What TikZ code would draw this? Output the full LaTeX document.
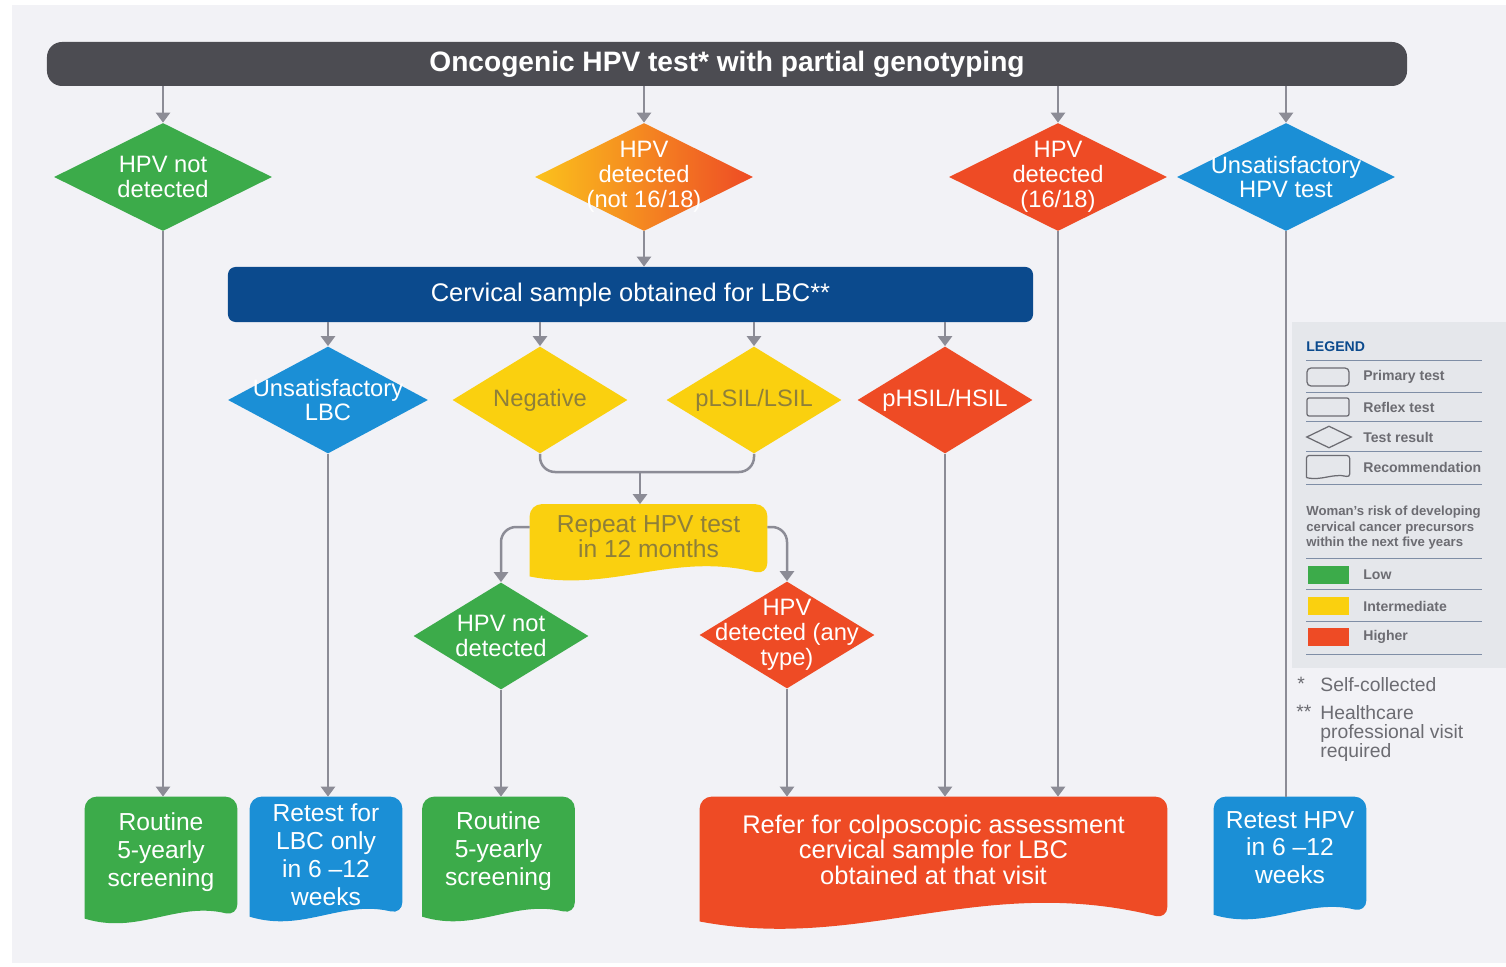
\documentclass[tikz,border=0pt]{standalone}
\usepackage{fontspec}
\setmainfont{Liberation Sans}
\usetikzlibrary{positioning,arrows.meta,calc,shapes.geometric,backgrounds}

\definecolor{bardark}{HTML}{4C4C52}
\definecolor{lbcnavy}{HTML}{0B4A8D}
\definecolor{riskgreen}{HTML}{3CAB4A}
\definecolor{riskyellow}{HTML}{FAD00F}
\definecolor{riskred}{HTML}{EE4B25}
\definecolor{midorange}{HTML}{FBC21C}
\definecolor{unsatblue}{HTML}{1B8FD6}
\definecolor{textolive}{HTML}{8E7F3A}
\definecolor{linkgray}{HTML}{8C8C96}
\definecolor{pagebg}{HTML}{F2F2F6}
\definecolor{legendbg}{HTML}{E5E7EB}
\definecolor{legendrule}{HTML}{7F8EA6}
\definecolor{legendtext}{HTML}{6C6C72}

% recommendation outline: straight top, wavy hem
\newcommand{\hemshape}[2]{%
  \path[#2] let \p1=(#1.south west), \p2=(#1.north east),
    \n1={\x2-\x1}, \n2={\y2-\y1} in
    (\x1,{\y1+0.045*\n2}) -- (\x1,\y2) -- (\x2,\y2) -- (\x2,{\y1+0.065*\n2})
    .. controls ({\x1+0.6*\n1},{\y1+0.06*\n2+0.1*\n1}) and ({\x1+0.35*\n1},{\y1-0.03*\n2-0.045*\n1}) .. (\x1,{\y1+0.045*\n2});}
\newcommand{\lift}[1]{\rule[-#1]{0pt}{#1}}

\begin{document}
\begin{tikzpicture}[x=0.2mm, y=-0.2mm,
  every node/.style={inner sep=0pt, align=center, font=\fontsize{13.5}{14.2}\selectfont},
  bar/.style={rectangle, rounded corners=3mm, fill=bardark, text=white, minimum width=272mm, minimum height=8.8mm, font=\fontsize{16}{18}\selectfont\bfseries},
  sample/.style={rectangle, rounded corners=1.5mm, fill=lbcnavy, text=white, minimum width=161mm, minimum height=11mm, font=\fontsize{14.5}{16}\selectfont},
  result/.style={diamond, minimum width=43.6mm, minimum height=21.6mm},
  lresult/.style={result, minimum width=35mm, minimum height=21.4mm},
  advice/.style={rectangle, text=white, minimum width=30.4mm, minimum height=25mm, font=\fontsize{14}{15.9}\selectfont},
  link/.style={draw=linkgray, line width=0.5mm},
  arr/.style={link, -{Triangle[width=2.8mm,length=2mm]}},
  legtxt/.style={anchor=west, text=legendtext, font=\fontsize{8}{9}\selectfont\bfseries},
  legrule/.style={draw=legendrule, line width=0.2mm},
  legicon/.style={draw=legendtext, line width=0.25mm, minimum width=8.4mm, minimum height=3.6mm},
  swatch/.style={minimum width=8.2mm, minimum height=3.6mm},
  note/.style={anchor=north west, align=left, text=legendtext, font=\fontsize{11}{10.8}\selectfont}
]
\useasboundingbox (0,0) rectangle (1506,967);
\begin{scope}[on background layer]
  \fill[white] (0,0) rectangle (1506,967);
  \fill[pagebg] (12,5) rectangle (1506,963);
  \fill[legendbg] (1292,322) rectangle (1506,668);
\end{scope}

% Primary test and its results
\node[bar] (top) at (727,64) {Oncogenic HPV test* with partial genotyping};
\node[result, fill=riskgreen, label={[white]center:HPV not\\detected}] (hpvneg) at (163,177) {};
\node[result, left color=midorange, right color=riskred, label={[white]center:HPV\\detected\\(not 16/18)}] (hpvother) at (644,177) {};
\node[result, fill=riskred, label={[white]center:HPV\\detected\\(16/18)}] (hpv1618) at (1058,177) {};
\node[result, fill=unsatblue, label={[white]center:Unsatisfactory\\HPV test}] (hpvunsat) at (1286,177) {};

% Reflex LBC and its results
\node[sample] (lbc) at (630.5,294.5) {Cervical sample obtained for LBC**};
\node[lresult, minimum width=40mm, fill=unsatblue, label={[white]center:Unsatisfactory\\LBC}] (lbcunsat) at (328,400) {};
\node[lresult, fill=riskyellow, label={[textolive]center:Negative}] (neg) at (540,400) {};
\node[lresult, fill=riskyellow, label={[textolive]center:pLSIL/LSIL}] (lsil) at (754,400) {};
\node[lresult, fill=riskred, label={[white]center:pHSIL/HSIL}] (hsil) at (945,400) {};
\coordinate (jn) at (640,472);
\node[advice, minimum width=47.4mm, minimum height=15mm, text=textolive, font=\fontsize{14}{14.2}\selectfont] (rep) at (648.5,542) {Repeat HPV test\\in 12 months\lift{2.2mm}};
\node[lresult, fill=riskgreen, label={[white]center:HPV not\\detected}] (rneg) at (501,636) {};
\node[lresult, fill=riskred, label={[white]center:HPV\\detected (any\\type)}] (rpos) at (787,635) {};

% Recommendations
\node[advice, minimum height=25.4mm] (routA) at (161,860.5) {Routine\\5-yearly\\screening\lift{4.2mm}};
\node[advice] (retestlbc) at (326,859.5) {Retest for\\LBC only\\in 6 –12\\weeks\lift{1.8mm}};
\node[advice] (routB) at (498.5,859.5) {Routine\\5-yearly\\screening\lift{4.2mm}};
\node[advice, minimum width=93.4mm, minimum height=26mm, font=\fontsize{14.5}{14.5}\selectfont] (refer) at (933.5,862) {Refer for colposcopic assessment\\cervical sample for LBC\\obtained at that visit\lift{5mm}};
\node[advice, minimum height=24.6mm] (retesthpv) at (1290,858.5) {Retest HPV\\in 6 –12\\weeks\lift{4.4mm}};
\begin{scope}[on background layer]
  \hemshape{rep}{fill=riskyellow, rounded corners=2.4mm}
  \hemshape{routA}{fill=riskgreen, rounded corners=2.4mm}
  \hemshape{retestlbc}{fill=unsatblue, rounded corners=2.4mm}
  \hemshape{routB}{fill=riskgreen, rounded corners=2.4mm}
  \hemshape{refer}{fill=riskred, rounded corners=2.4mm}
  \hemshape{retesthpv}{fill=unsatblue, rounded corners=2.4mm}
\end{scope}

% Connectors
\draw[arr] (hpvneg |- top.south) -- (hpvneg.north);
\draw[arr] (hpvother |- top.south) -- (hpvother.north);
\draw[arr] (hpv1618 |- top.south) -- (hpv1618.north);
\draw[arr] (hpvunsat |- top.south) -- (hpvunsat.north);
\draw[arr] (hpvother.south) -- (hpvother |- lbc.north);
\draw[arr] (lbcunsat |- lbc.south) -- (lbcunsat.north);
\draw[arr] (neg |- lbc.south) -- (neg.north);
\draw[arr] (lsil |- lbc.south) -- (lsil.north);
\draw[arr] (hsil |- lbc.south) -- (hsil.north);
\draw[link, rounded corners=3mm] (neg.south) |- (jn) -| (lsil.south);
\draw[arr] (jn) -- (jn |- rep.north);
\draw[arr, rounded corners=3mm] ([yshift=3mm]rep.west) -| (rneg.north);
\draw[arr, rounded corners=3mm] ([yshift=3mm]rep.east) -| (rpos.north);
\draw[arr] (hpvneg.south) -- (hpvneg |- routA.north);
\draw[arr] (lbcunsat.south) -- (lbcunsat |- retestlbc.north);
\draw[arr] (rneg.south) -- (rneg |- routB.north);
\draw[arr] (rpos.south) -- (rpos |- refer.north);
\draw[arr] (hsil.south) -- (hsil |- refer.north);
\draw[arr] (hpv1618.south) -- (hpv1618 |- refer.north);
\draw[link] (hpvunsat.south) -- (hpvunsat |- retesthpv.north);

% Legend
\node[legtxt, text=lbcnavy] (legtitle) at (1306,347) {LEGEND};
\node[legicon, rounded corners=0.8mm] (iprim) at (1328,377) {};
\node[legtxt] (tprim) at (1363,377) {Primary test};
\node[legicon, rounded corners=0.4mm] (irefl) at (1328,407) {};
\node[legtxt] (trefl) at (1363,407) {Reflex test};
\node[legicon, diamond, minimum width=9mm, minimum height=4.4mm] (idia) at (1329,437) {};
\node[legtxt] (tdia) at (1363,437) {Test result};
\node[legicon, draw=none, minimum height=4.4mm] (irec) at (1328,467) {};
\hemshape{irec}{draw=legendtext, line width=0.25mm, rounded corners=0.6mm}
\node[legtxt] (trec) at (1363,467) {Recommendation};
\node[legtxt, anchor=north west, align=left, font=\fontsize{7.5}{8.6}\selectfont\bfseries] (risk) at (1306,506) {Woman's risk of developing\\cervical cancer precursors\\within the next five years};
\node[swatch, fill=riskgreen] (ilow) at (1328,575) {};
\node[legtxt] (tlow) at (1363,575) {Low};
\node[swatch, fill=riskyellow] (imid) at (1328,606) {};
\node[legtxt] (tmid) at (1363,606) {Intermediate};
\node[swatch, fill=riskred] (ihigh) at (1328,637) {};
\node[legtxt] (thigh) at (1363,637) {Higher};
\draw[legrule] (1306,360) -- (1482,360) (1306,392) -- (1482,392) (1306,421) -- (1482,421)
  (1306,451) -- (1482,451) (1306,484) -- (1482,484) (1306,558) -- (1482,558)
  (1306,589) -- (1482,589) (1306,621) -- (1482,621) (1306,654) -- (1482,654);
% Footnotes
\node[note] (star1) at (1297,677) {*};
\node[note] (fn1) at (1320,677) {Self-collected};
\node[note] (star2) at (1296,705) {**};
\node[note] (fn2) at (1320,705) {Healthcare\\professional visit\\required};
\end{tikzpicture}
\end{document}
